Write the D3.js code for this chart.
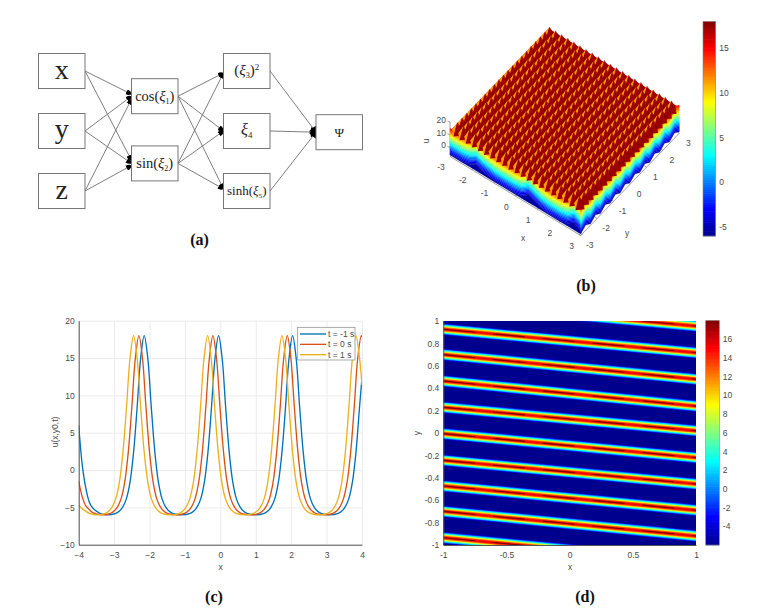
<!DOCTYPE html>
<html>
<head>
<meta charset="utf-8">
<script src="https://d3js.org/d3.v7.min.js"></script>
<style>
html, body { margin: 0; padding: 0; background: #fff; }
svg { display: block; }
text { font-family: "Liberation Sans", Arial, sans-serif; font-size: 8.5px; fill: #4a4a4a; }
.caption { font-family: "Liberation Serif", serif; font-size: 16px; font-weight: bold; fill: #111; text-anchor: middle; }
.node rect { fill: #fff; stroke: #777; stroke-width: 1px; }
.node text { font-family: "Liberation Serif", serif; fill: #222; text-anchor: middle; }
.edge { stroke: #707070; stroke-width: 0.9px; fill: none; }
.tick line { stroke: #555; }
.domain { stroke: #555; }
.grid line { stroke: #ececec; }
.grid .domain { stroke: none; }
</style>
</head>
<body>
<svg id="fig" width="758" height="609"></svg>
<script>
// ---- panel (a): network
var nodeNames = ["x", "y", "z", "cos", "sin", "sq", "xi4", "sinh", "psi"];
var edgeFrom = ["x", "x", "y", "y", "z", "z", "cos", "cos", "cos", "sin", "sin", "sin", "sq", "xi4", "sinh"];
var edgeTo = ["cos", "sin", "cos", "sin", "cos", "sin", "sq", "xi4", "sinh", "sq", "xi4", "sinh", "psi", "psi", "psi"];

// ---- panel (c): u(x,y0,t)
var xTm1 = [-4, -3.9, -3.8, -3.7, -3.6, -3.5, -3.4, -3.2,
  -2.95, -2.85, -2.75, -2.65, -2.55, -2.45, -2.35, -2.25, -2.15, -2.05, -1.95, -1.85, -1.75, -1.65, -1.55, -1.45, -1.35, -1.1,
  -0.85, -0.75, -0.65, -0.55, -0.45, -0.35, -0.25, -0.15, -0.05, 0.05, 0.15, 0.25, 0.35, 0.45, 0.55, 0.65, 0.75, 1,
  1.24, 1.34, 1.44, 1.54, 1.64, 1.74, 1.84, 1.94, 2.04, 2.14, 2.24, 2.34, 2.44, 2.54, 2.64, 2.74, 2.84, 3.08,
  3.33, 3.43, 3.53, 3.63, 3.73, 3.83, 3.93, 4];
var uTm1 = [6, 0.7, -2.4, -4.3, -5.1, -5.5, -5.8, -6,
  -5.8, -5.5, -4.9, -3.8, -1.6, 2.4, 8.4, 15, 18, 15, 8.4, 2.4, -1.6, -3.8, -4.9, -5.5, -5.8, -6,
  -5.8, -5.5, -4.9, -3.8, -1.6, 2.4, 8.4, 15, 18, 15, 8.4, 2.4, -1.6, -3.8, -4.9, -5.5, -5.8, -6,
  -5.8, -5.5, -4.9, -3.8, -1.6, 2.4, 8.4, 15, 18, 15, 8.4, 2.4, -1.6, -3.8, -4.9, -5.5, -5.8, -6,
  -5.8, -5.5, -4.9, -3.8, -1.6, 2.4, 8.4, 12.4];
var xT0 = [-4, -3.9, -3.8, -3.7, -3.6, -3.34,
  -3.1, -3, -2.9, -2.8, -2.7, -2.6, -2.5, -2.4, -2.3, -2.2, -2.1, -2, -1.9, -1.8, -1.7, -1.6, -1.5, -1.25,
  -1.01, -0.91, -0.81, -0.71, -0.61, -0.51, -0.41, -0.31, -0.21, -0.11, -0.01, 0.09, 0.19, 0.29, 0.39, 0.49, 0.59, 0.84,
  1.09, 1.19, 1.29, 1.39, 1.49, 1.59, 1.69, 1.79, 1.89, 1.99, 2.09, 2.19, 2.29, 2.39, 2.49, 2.59, 2.69, 2.93,
  3.18, 3.28, 3.38, 3.48, 3.58, 3.68, 3.78, 3.88, 3.98, 4];
var uT0 = [-1.5, -3.6, -4.8, -5.3, -5.7, -6,
  -5.8, -5.5, -4.9, -3.8, -1.6, 2.4, 8.4, 15, 18, 15, 8.4, 2.4, -1.6, -3.8, -4.9, -5.5, -5.8, -6,
  -5.8, -5.5, -4.9, -3.8, -1.6, 2.4, 8.4, 15, 18, 15, 8.4, 2.4, -1.6, -3.8, -4.9, -5.5, -5.8, -6,
  -5.8, -5.5, -4.9, -3.8, -1.6, 2.4, 8.4, 15, 18, 15, 8.4, 2.4, -1.6, -3.8, -4.9, -5.5, -5.8, -6,
  -5.8, -5.5, -4.9, -3.8, -1.6, 2.4, 8.4, 15, 18, 17.8];
var xT1 = [-4, -3.9, -3.8, -3.7, -3.49,
  -3.25, -3.15, -3.05, -2.95, -2.85, -2.75, -2.65, -2.55, -2.45, -2.35, -2.25, -2.15, -2.05, -1.95, -1.85, -1.75, -1.65, -1.4,
  -1.16, -1.06, -0.96, -0.86, -0.76, -0.66, -0.56, -0.46, -0.36, -0.26, -0.16, -0.06, 0.04, 0.14, 0.24, 0.34, 0.44, 0.69,
  0.94, 1.04, 1.14, 1.24, 1.34, 1.44, 1.54, 1.64, 1.74, 1.84, 1.94, 2.04, 2.14, 2.24, 2.34, 2.44, 2.54, 2.79,
  3.03, 3.13, 3.23, 3.33, 3.43, 3.53, 3.63, 3.73, 3.83, 3.93, 4];
var uT1 = [-4.7, -5.2, -5.5, -5.8, -6,
  -5.8, -5.5, -4.9, -3.8, -1.6, 2.4, 8.4, 15, 18, 15, 8.4, 2.4, -1.6, -3.8, -4.9, -5.5, -5.8, -6,
  -5.8, -5.5, -4.9, -3.8, -1.6, 2.4, 8.4, 15, 18, 15, 8.4, 2.4, -1.6, -3.8, -4.9, -5.5, -5.8, -6,
  -5.8, -5.5, -4.9, -3.8, -1.6, 2.4, 8.4, 15, 18, 15, 8.4, 2.4, -1.6, -3.8, -4.9, -5.5, -5.8, -6,
  -5.8, -5.5, -4.9, -3.8, -1.6, 2.4, 8.4, 15, 18, 15, 11.4];
var lineNames = ["t = -1 s", "t = 0 s", "t = 1 s"];
var lineColors = ["#0072bd", "#d95319", "#edb120"];

// ---- panel (d): ridge centre y at x=-1 and x=1, and the ridge cross-section
var ridgeLeft = [1.16, 0.926, 0.70, 0.464, 0.229, -0.006, -0.244, -0.473, -0.70, -0.935];
var ridgeRight = [0.955, 0.717, 0.48, 0.24, 0.02, -0.22, -0.455, -0.69, -0.92, -1.15];
var ridgeOffset = [0.054, 0.05, 0.047, 0.044, 0.04, 0.036, 0.031, 0.026, 0.021, 0.015, 0.01, 0.004];
var ridgeU = [-5, -3.5, -2, 0, 2, 3.5, 6, 8.5, 11, 13.5, 14.5, 15.5];

// ---- panel (b): surface lattice, spike colours and wall bands
var latticeX = [-2.85, -2.57, -2.29, -2.01, -1.73, -1.45, -1.17, -0.89, -0.61, -0.33, -0.05, 0.23, 0.51, 0.79, 1.07, 1.35, 1.63, 1.91, 2.19, 2.47, 2.75];
var latticeY = [-2.75, -2.47, -2.19, -1.91, -1.63, -1.35, -1.07, -0.79, -0.51, -0.23, 0.05, 0.33, 0.61, 0.89, 1.17, 1.45, 1.73, 2.01, 2.29, 2.57, 2.85];
var spikeTopU = 18;
var spikeBaseU = 10;
var spikeHalfWidth = 0.24;
var faceU = [11.4, 17.3, 18];   // left, front, right face of a spike
var wallT = [-3, -2.7, -2.4, -2.1, -1.8, -1.5, -1.2, -0.9, -0.6, -0.3, 0, 0.3, 0.6, 0.9, 1.2, 1.5, 1.8, 2.1, 2.4, 2.7, 3];
var wallU = [-6, -5, -4, -3, -2, -1, 0, 1, 2, 3, 4, 5, 6, 7, 8, 9, 10, 11, 12, 13, 14, 15];
var leftWallLift = [0, 0, 0, 1, 4, 2, 1, 0, 0, 0, 0, 1, 5, 3, 1, 0, 0, 0, 1, 5, 2];
var rightWallLift = [0, 3, 0, 3, 0, 3, 0, 3, 0, 3, 0, 3, 0, 3, 0, 3, 0, 3, 0, 3, 0];

// ---- jet colour map shared by (b), (d)
var jetU = [-6, -3, 3, 9, 15, 18];
var jetColors = ["#00008f", "#0000ff", "#00ffff", "#ffff00", "#ff0000", "#800000"];
var jet = d3.scaleLinear().domain(jetU).range(jetColors).clamp(true);

var svg = d3.select("#fig");
var defs = svg.append("defs");

function caption(label, x, y) {
  svg.append("text").attr("class", "caption").attr("x", x).attr("y", y).text(label);
}

// ---------------- (a)
function drawNetwork() {
  var g = svg.append("g");
  var colX = d3.scaleOrdinal().domain(["input", "hidden", "output", "psi"]).range([38.5, 131.5, 223.5, 316]);
  var rowY = d3.scaleLinear().domain([0, 1]).range([53.5, 173.5]);
  var place = {
    x: [colX("input"), rowY(0)], y: [colX("input"), rowY(0.5)], z: [colX("input"), rowY(1)],
    cos: [colX("hidden"), rowY(0.21)], sin: [colX("hidden"), rowY(0.77)],
    sq: [colX("output"), rowY(0)], xi4: [colX("output"), rowY(0.5)], sinh: [colX("output"), rowY(1)],
    psi: [colX("psi"), rowY(0.51)]
  };
  var bw = 46.5, bh = 35;
  defs.append("marker").attr("id", "blob").attr("markerUnits", "userSpaceOnUse")
    .attr("markerWidth", 7).attr("markerHeight", 7).attr("refX", 5.5).attr("refY", 3)
    .attr("orient", "auto")
    .append("path").attr("d", "M0,0.4 Q4,0.4 5.5,3 Q4,5.6 0,5.6Z").attr("fill", "#000");
  defs.append("marker").attr("id", "blobBig").attr("markerUnits", "userSpaceOnUse")
    .attr("markerWidth", 7).attr("markerHeight", 12).attr("refX", 5.5).attr("refY", 5.5)
    .attr("orient", "auto")
    .append("path").attr("d", "M0.5,0.6 Q4.5,1.5 5.5,5.5 Q4.5,9.5 0.5,10.4 Q-0.5,5.5 0.5,0.6Z").attr("fill", "#000");

  var edges = edgeFrom.map(function(f, i) { return { from: f, to: edgeTo[i] }; });
  g.selectAll("line.edge").data(edges).enter().append("line")
    .attr("class", "edge")
    .attr("x1", function(d) { return place[d.from][0] + bw; })
    .attr("y1", function(d) { return place[d.from][1] + bh / 2; })
    .attr("x2", function(d) { return place[d.to][0]; })
    .attr("y2", function(d) {
      var py = place[d.to][1] + bh / 2;
      if (d.to == "cos") { return py + ({ x: -2, y: 0, z: 3 })[d.from]; }
      if (d.to == "sin") { return py + ({ x: -3, y: 0, z: 2 })[d.from]; }
      if (d.to == "sq") { return py + 2; }
      if (d.to == "sinh") { return py - 2; }
      return py;
    })
    .attr("marker-end", function(d) { return d.to == "psi" ? "url(#blobBig)" : "url(#blob)"; });

  var node = g.selectAll("g.node").data(nodeNames).enter().append("g").attr("class", "node")
    .attr("transform", function(d) { return "translate(" + place[d][0] + "," + place[d][1] + ")"; });
  node.append("rect").attr("width", bw).attr("height", bh);

  function big(name, label) {
    node.filter(function(d) { return d == name; }).append("text")
      .attr("x", bw / 2).attr("y", label == "y" ? 24 : 25)
      .style("font-size", "28px").text(label);
  }
  big("x", "x"); big("y", "y"); big("z", "z");

  // formula nodes are [text, kind] runs
  function formula(name, runs, size, baseY) {
    var t = node.filter(function(d) { return d == name; }).append("text")
      .attr("x", bw / 2).attr("y", baseY).style("font-size", size + "px");
    runs.forEach(function(r) {
      var s = t.append("tspan").text(r[0]);
      if (r[1] == "i") { s.style("font-style", "italic"); }
      if (r[1] == "sub") { s.attr("dy", 3).style("font-size", (size * 0.55) + "px"); }
      if (r[1] == "back") { s.attr("dy", -3); }
      if (r[1] == "sup") { s.attr("dy", -5).style("font-size", (size * 0.6) + "px"); }
    });
  }
  formula("cos", [["cos("], ["ξ", "i"], ["1", "sub"], [")", "back"]], 14.5, 22);
  formula("sin", [["sin("], ["ξ", "i"], ["2", "sub"], [")", "back"]], 14.5, 22);
  formula("sq", [["("], ["ξ", "i"], ["3", "sub"], [")", "back"], ["2", "sup"]], 15, 21);
  formula("xi4", [["ξ", "i"], ["4", "sub"]], 16, 21);
  formula("sinh", [["sinh("], ["ξ", "i"], ["5", "sub"], [")", "back"]], 13, 21);
  node.filter(function(d) { return d == "psi"; }).append("text")
    .attr("x", bw / 2).attr("y", 22).style("font-size", "13px").text("Ψ");
  caption("(a)", 199.5, 245);
}

// ---------------- colour bar shared by (b), (d)
function drawColorbar(x0, x1, y0, y1, ticks) {
  var y = d3.scaleLinear().domain([-6, 18]).range([y1, y0]);
  var g = svg.append("g");
  g.selectAll("rect").data(d3.range(-6, 18, 0.25)).enter().append("rect")
    .attr("x", x0).attr("width", x1 - x0)
    .attr("y", function(d) { return y(d + 0.25) - 0.3; })
    .attr("height", function(d) { return y(d) - y(d + 0.25) + 0.6; })
    .attr("fill", function(d) { return jet(d + 0.125); });
  g.append("rect").attr("x", x0).attr("y", y0).attr("width", x1 - x0).attr("height", y1 - y0)
    .attr("fill", "none").attr("stroke", "#888").attr("stroke-width", 0.6);
  g.selectAll("text").data(ticks).enter().append("text")
    .attr("x", x1 + 3.5).attr("y", function(d) { return y(d) + 3; }).text(function(d) { return d; });
}

// ---------------- (b)
function drawSurface() {
  var left = [450, 155], front = [580.7, 234], right = [679.3, 131.7];
  var fx = d3.scaleLinear().domain([-3, 3]).range([0, 1]);
  var fy = d3.scaleLinear().domain([-3, 3]).range([0, 1]);
  var fz = d3.scaleLinear().domain([-6, 20]).range([0, 33]);
  function proj(x, y, u) {
    return [
      left[0] + fx(x) * (front[0] - left[0]) + fy(y) * (right[0] - front[0]),
      left[1] + fx(x) * (front[1] - left[1]) + fy(y) * (right[1] - front[1]) - fz(u)
    ];
  }
  function pts(list) { return list.map(function(p) { return p.join(","); }).join(" "); }

  defs.append("filter").attr("id", "soft").attr("x", "-5%").attr("y", "-5%").attr("width", "110%").attr("height", "110%")
    .append("feGaussianBlur").attr("stdDeviation", 0.55);

  // axes
  var ax = svg.append("g").attr("stroke", "#777").attr("stroke-width", 0.7).attr("fill", "none");
  ax.append("line").attr("x1", proj(-3, -3, -6)[0]).attr("y1", proj(-3, -3, -6)[1] + 1.5)
    .attr("x2", proj(3, -3, -6)[0]).attr("y2", proj(3, -3, -6)[1] + 1.5);
  ax.append("line").attr("x1", proj(3, -3, -6)[0]).attr("y1", proj(3, -3, -6)[1] + 1.5)
    .attr("x2", proj(3, 3, -6)[0]).attr("y2", proj(3, 3, -6)[1] + 1.5);
  ax.append("line").attr("x1", proj(-3, -3, -6)[0]).attr("y1", proj(-3, -3, -6)[1])
    .attr("x2", proj(-3, -3, 20)[0]).attr("y2", proj(-3, -3, 20)[1]);
  var tickX = [-3, -2, -1, 0, 1, 2, 3], tickY = [-3, -2, -1, 0, 1, 2, 3], tickU = [0, 10, 20];
  tickX.forEach(function(t) {
    var p = proj(t, -3, -6);
    ax.append("line").attr("x1", p[0]).attr("y1", p[1] + 1.5).attr("x2", p[0] + 2).attr("y2", p[1]);
    svg.append("text").attr("x", p[0] - 9).attr("y", p[1] + 15).attr("text-anchor", "middle").text(t);
  });
  tickY.forEach(function(t) {
    var p = proj(3, t, -6);
    ax.append("line").attr("x1", p[0]).attr("y1", p[1] + 1.5).attr("x2", p[0] - 2).attr("y2", p[1]);
    svg.append("text").attr("x", p[0] + 9).attr("y", p[1] + 14).attr("text-anchor", "middle").text(t);
  });
  tickU.forEach(function(t) {
    var p = proj(-3, -3, t);
    ax.append("line").attr("x1", p[0]).attr("y1", p[1]).attr("x2", p[0] - 2.5).attr("y2", p[1] - 1);
    svg.append("text").attr("x", p[0] - 4).attr("y", p[1] + 1).attr("text-anchor", "end").text(t);
  });
  svg.append("text").attr("x", 523).attr("y", 241).attr("text-anchor", "middle").text("x");
  svg.append("text").attr("x", 627).attr("y", 236).attr("text-anchor", "middle").text("y");
  svg.append("text").attr("transform", "translate(429,141) rotate(-90)").attr("text-anchor", "middle").text("u");

  var surf = svg.append("g").attr("filter", "url(#soft)");

  // top plane under the spikes
  surf.append("polygon")
    .attr("points", pts([proj(-3, -3, 13), proj(3, -3, 13), proj(3, 3, 13), proj(-3, 3, 13)]))
    .attr("fill", jet(16));

  // front walls, one strip per colour band
  var bands = wallU.slice(0, -1).map(function(u, i) { return { lo: u, hi: wallU[i + 1] }; });
  surf.selectAll("polygon.lw").data(bands).enter().append("polygon").attr("class", "lw")
    .attr("fill", function(d) { return jet((d.lo + d.hi) / 2); })
    .attr("stroke", function(d) { return jet((d.lo + d.hi) / 2); }).attr("stroke-width", 0.3)
    .attr("points", function(d) {
      var up = wallT.map(function(x, i) { return proj(x, -3, Math.min(15, d.hi + leftWallLift[i])); });
      var dn = wallT.map(function(x, i) { return proj(x, -3, d.lo + (d.lo > -6 ? leftWallLift[i] : 0)); }).reverse();
      return pts(up.concat(dn));
    });
  surf.selectAll("polygon.rw").data(bands).enter().append("polygon").attr("class", "rw")
    .attr("fill", function(d) { return jet((d.lo + d.hi) / 2); })
    .attr("stroke", function(d) { return jet((d.lo + d.hi) / 2); }).attr("stroke-width", 0.3)
    .attr("points", function(d) {
      var up = wallT.map(function(y, i) { return proj(3, y, d.hi + rightWallLift[i]); });
      var dn = wallT.map(function(y, i) { return proj(3, y, d.lo + rightWallLift[i]); }).reverse();
      return pts(up.concat(dn));
    });

  // spikes, back to front: three visible faces each
  var spikes = [];
  latticeX.forEach(function(x) {
    latticeY.forEach(function(y) { spikes.push({ x: x, y: y }); });
  });
  spikes.sort(function(a, b) { return proj(a.x, a.y, 0)[1] - proj(b.x, b.y, 0)[1]; });
  var faces = [];
  spikes.forEach(function(s) {
    var w = spikeHalfWidth, b = spikeBaseU;
    var apex = proj(s.x, s.y, spikeTopU);
    var west = proj(s.x - w, s.y, b), south = proj(s.x, s.y - w, b), east = proj(s.x + w, s.y, b), north = proj(s.x, s.y + w, b);
    faces.push({ p: [west, south, apex], u: faceU[0] });
    faces.push({ p: [south, east, apex], u: faceU[1] });
    faces.push({ p: [east, north, apex], u: faceU[2] });
  });
  surf.selectAll("polygon.sp").data(faces).enter().append("polygon").attr("class", "sp")
    .attr("fill", function(d) { return jet(d.u); })
    .attr("points", function(d) { return pts(d.p); });

  drawColorbar(703, 715.7, 21.7, 236, [-5, 0, 5, 10, 15]);
  caption("(b)", 586, 291);
}

// ---------------- (c)
function drawLines() {
  var w = { l: 78.7, r: 362, t: 320.7, b: 544.7 };
  var x = d3.scaleLinear().domain([-4, 4]).range([w.l, w.r]);
  var y = d3.scaleLinear().domain([-10, 20]).range([w.b, w.t]);
  var g = svg.append("g");
  g.append("g").attr("class", "grid").attr("transform", "translate(0," + w.b + ")")
    .call(d3.axisBottom(x).ticks(8).tickSize(w.t - w.b).tickFormat(""));
  g.append("g").attr("class", "grid").attr("transform", "translate(" + w.l + ",0)")
    .call(d3.axisLeft(y).ticks(6).tickSize(w.l - w.r).tickFormat(""));

  var line = d3.line().x(function(d) { return x(d[0]); }).y(function(d) { return y(d[1]); }).curve(d3.curveCatmullRom);
  var series = [d3.zip(xTm1, uTm1), d3.zip(xT0, uT0), d3.zip(xT1, uT1)];
  defs.append("clipPath").attr("id", "clipC").append("rect")
    .attr("x", w.l).attr("y", w.t).attr("width", w.r - w.l).attr("height", w.b - w.t);
  g.append("g").attr("clip-path", "url(#clipC)").selectAll("path").data(series).enter().append("path")
    .attr("d", line).attr("fill", "none").attr("stroke-width", 1.35)
    .attr("stroke", function(d, i) { return lineColors[i]; });

  g.append("g").attr("transform", "translate(0," + w.b + ")")
    .call(d3.axisBottom(x).ticks(8).tickSize(0).tickPadding(7).tickFormat(d3.format("d")));
  g.append("g").attr("transform", "translate(" + w.l + ",0)")
    .call(d3.axisLeft(y).ticks(6).tickSize(0).tickPadding(4).tickFormat(d3.format("d")));
  svg.append("text").attr("x", 220.5).attr("y", 570).attr("text-anchor", "middle").text("x");
  svg.append("text").attr("transform", "translate(58,432) rotate(-90)").attr("text-anchor", "middle").text("u(x,y0,t)");

  var leg = g.append("g");
  leg.append("rect").attr("x", 297.7).attr("y", 327.3).attr("width", 57.3).attr("height", 32.7)
    .attr("fill", "#fff").attr("stroke", "#888").attr("stroke-width", 0.7);
  var legY = d3.scalePoint().domain(lineNames).range([334, 354.7]);
  leg.selectAll("line").data(lineNames).enter().append("line")
    .attr("x1", 300).attr("x2", 326)
    .attr("y1", function(d) { return legY(d); }).attr("y2", function(d) { return legY(d); })
    .attr("stroke-width", 1.35).attr("stroke", function(d, i) { return lineColors[i]; });
  leg.selectAll("text").data(lineNames).enter().append("text")
    .attr("x", 328).attr("y", function(d) { return legY(d) + 3; }).text(function(d) { return d; });
  caption("(c)", 214, 602);
}

// ---------------- (d)
function drawHeat() {
  var w = { l: 443.3, r: 696, t: 321, b: 545 };
  var x = d3.scaleLinear().domain([-1, 1]).range([w.l, w.r]);
  var y = d3.scaleLinear().domain([-1, 1]).range([w.b, w.t]);
  defs.append("clipPath").attr("id", "clipD").append("rect")
    .attr("x", w.l).attr("y", w.t).attr("width", w.r - w.l).attr("height", w.b - w.t);
  var plot = svg.append("g").attr("clip-path", "url(#clipD)");
  var inner = plot.append("g").attr("filter", "url(#soft)");
  inner.append("rect").attr("x", w.l - 5).attr("y", w.t - 5).attr("width", w.r - w.l + 10).attr("height", w.b - w.t + 10)
    .attr("fill", jet(-6));

  var strips = [];
  ridgeLeft.forEach(function(yl, r) {
    ridgeOffset.forEach(function(off, k) {
      strips.push({ yl: yl, yr: ridgeRight[r], off: off, u: ridgeU[k] });
    });
  });
  inner.selectAll("polygon").data(strips).enter().append("polygon")
    .attr("fill", function(d) { return jet(d.u); })
    .attr("points", function(d) {
      return [[x(-1), y(d.yl + d.off)], [x(1), y(d.yr + d.off)], [x(1), y(d.yr - d.off)], [x(-1), y(d.yl - d.off)]]
        .map(function(p) { return p.join(","); }).join(" ");
    });
  // the dark crest comes and goes along each ridge
  inner.selectAll("line.crest").data(ridgeLeft).enter().append("line").attr("class", "crest")
    .attr("x1", x(-1)).attr("x2", x(1))
    .attr("y1", function(d) { return y(d); })
    .attr("y2", function(d, i) { return y(ridgeRight[i]); })
    .attr("stroke", jet(18)).attr("stroke-width", 1.1).attr("stroke-dasharray", "32 18");

  var fmt = function(v) { return v == 0 ? "0" : String(v); };
  var ax = svg.append("g");
  ax.append("g").attr("transform", "translate(0," + w.b + ")")
    .call(d3.axisBottom(x).tickValues([-1, -0.5, 0, 0.5, 1]).tickSize(0).tickPadding(7).tickFormat(fmt));
  ax.append("g").attr("transform", "translate(" + w.l + ",0)")
    .call(d3.axisLeft(y).tickValues([-1, -0.8, -0.6, -0.4, -0.2, 0, 0.2, 0.4, 0.6, 0.8, 1]).tickSize(0).tickPadding(4).tickFormat(fmt));
  svg.append("text").attr("x", 570).attr("y", 570).attr("text-anchor", "middle").text("x");
  svg.append("text").attr("transform", "translate(420,433) rotate(-90)").attr("text-anchor", "middle").text("y");

  drawColorbar(705.7, 719.3, 320.7, 545, [-4, -2, 0, 2, 4, 6, 8, 10, 12, 14, 16]);
  caption("(d)", 585, 602);
}

drawNetwork();
drawSurface();
drawLines();
drawHeat();
</script>
</body>
</html>
